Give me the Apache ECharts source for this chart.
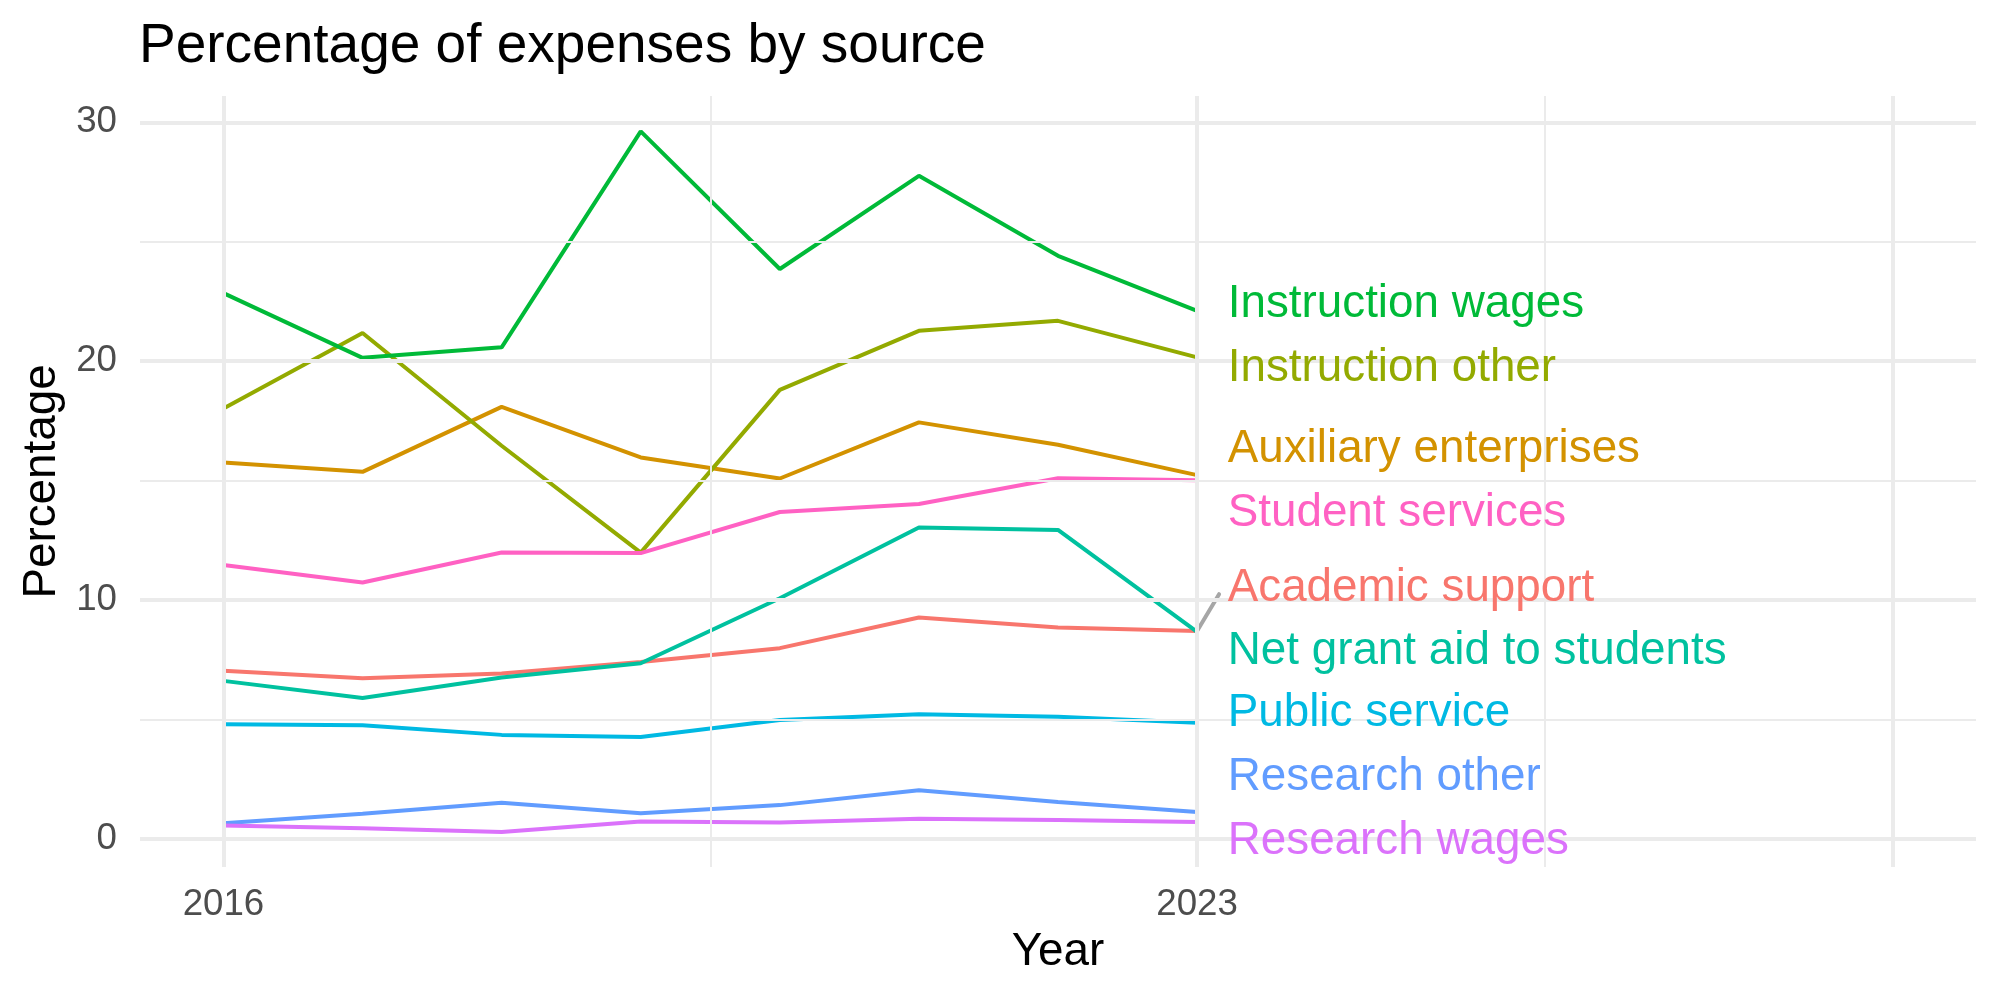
<!DOCTYPE html>
<html>
<head>
<meta charset="utf-8">
<script src="https://cdn.jsdelivr.net/npm/echarts@6/dist/echarts.min.js"></script>
<style>
  html, body { margin: 0; padding: 0; background: #fff; }
  #chart { width: 2000px; height: 1000px; }
</style>
</head>
<body>
<div id="chart"></div>
<script>
// data
const years = [2016, 2017, 2018, 2019, 2020, 2021, 2022, 2023];
const academicSupport = [7.04, 6.73, 6.93, 7.41, 7.99, 9.27, 8.85, 8.71];
const auxiliaryEnterprises = [15.76, 15.37, 18.09, 15.97, 15.09, 17.44, 16.5, 15.23];
const instructionOther = [18.02, 21.18, 16.46, 11.99, 18.8, 21.27, 21.69, 20.16];
const instructionWages = [22.85, 20.14, 20.58, 29.62, 23.86, 27.76, 24.41, 22.11];
const netGrantAid = [6.62, 5.9, 6.76, 7.36, 10.08, 13.04, 12.94, 8.67];
const publicService = [4.8, 4.76, 4.36, 4.27, 4.98, 5.22, 5.12, 4.87];
const researchOther = [0.66, 1.06, 1.52, 1.08, 1.42, 2.04, 1.55, 1.13];
const researchWages = [0.57, 0.45, 0.29, 0.73, 0.69, 0.85, 0.8, 0.71];
const studentServices = [11.47, 10.74, 11.99, 11.97, 13.69, 14.02, 15.1, 15.02];

const sourceNames = [
  "Academic support", "Auxiliary enterprises", "Instruction other",
  "Instruction wages", "Net grant aid to students", "Public service",
  "Research other", "Research wages", "Student services"
];
const sourceValues = [
  academicSupport, auxiliaryEnterprises, instructionOther,
  instructionWages, netGrantAid, publicService,
  researchOther, researchWages, studentServices
];
// repelled label positions (percentage units)
const labelY = [10.48, 16.31, 19.68, 22.36, 7.87, 5.25, 2.59, -0.09, 13.65];

const xTickLabels = [2016, 2023];
const yTickLabels = [0, 10, 20, 30];
const xMajor = [2016, 2023, 2028];
const xMinor = [2019.5, 2025.5];
const yMajor = [0, 10, 20, 30];
const yMinor = [5, 15, 25];

const colors = ["#F8766D", "#D39200", "#93AA00", "#00BA38", "#00C19F",
  "#00B9E3", "#619CFF", "#DB72FB", "#FF61C3"];

const FONT = "Liberation Sans, Arial, sans-serif";
const labelX = 2023.22;

const gridLines = [];
xMajor.forEach(v => gridLines.push({ xAxis: v, lineStyle: { width: 4 } }));
xMinor.forEach(v => gridLines.push({ xAxis: v, lineStyle: { width: 2 } }));
yMajor.forEach(v => gridLines.push({ yAxis: v, lineStyle: { width: 4 } }));
yMinor.forEach(v => gridLines.push({ yAxis: v, lineStyle: { width: 2 } }));

const series = [{
  type: "line",
  data: [[years[0], 0]],
  showSymbol: false,
  lineStyle: { opacity: 0 },
  silent: true,
  z: 1,
  markLine: {
    silent: true,
    symbol: "none",
    label: { show: false },
    lineStyle: { color: "#EBEBEB", type: "solid" },
    data: gridLines,
  },
}];

sourceNames.forEach((name, i) => {
  series.push({
    name: name,
    type: "line",
    data: years.map((y, j) => [y, sourceValues[i][j]]),
    showSymbol: false,
    lineStyle: { color: colors[i], width: 4 },
    z: 3,
  });
});

// label leader segment (academic support)
series.push({
  type: "line",
  data: [[years[7], academicSupport[7]], [2023.158, 10.25]],
  showSymbol: false,
  lineStyle: { color: "#A6A6A6", width: 4, cap: "round" },
  z: 4,
});

series.push({
  type: "scatter",
  data: sourceNames.map((name, i) => ({
    value: [labelX, labelY[i]],
    label: { color: colors[i] },
  })),
  symbolSize: 0,
  itemStyle: { opacity: 1 },
  z: 5,
  label: {
    show: true,
    position: "right",
    distance: 0,
    fontSize: 45.8,
    fontFamily: FONT,
    opacity: 1,
    formatter: p => sourceNames[p.dataIndex],
  },
});

const chart = echarts.init(document.getElementById("chart"));
chart.setOption({
  animation: false,
  backgroundColor: "#fff",
  title: {
    text: "Percentage of expenses by source",
    left: 134,
    top: 14,
    textStyle: { fontSize: 55, fontWeight: "normal", color: "#000", fontFamily: FONT },
  },
  grid: { left: 140, right: 24, top: 96, bottom: 133 },
  xAxis: {
    type: "value",
    min: 2015.4,
    max: 2028.6,
    name: "Year",
    nameLocation: "middle",
    nameGap: 62,
    nameTextStyle: { fontSize: 45.8, color: "#000", fontFamily: FONT },
    axisLine: { show: false },
    axisTick: { show: false },
    splitLine: { show: false },
    axisLabel: {
      customValues: xTickLabels,
      formatter: v => String(v),
      fontSize: 36.7,
      color: "#4D4D4D",
      fontFamily: FONT,
      margin: 19,
    },
  },
  yAxis: {
    type: "value",
    min: -1.17,
    max: 31.1,
    name: "Percentage",
    nameLocation: "middle",
    nameRotate: 90,
    nameGap: 74,
    nameTextStyle: { fontSize: 45.8, color: "#000", fontFamily: FONT },
    axisLine: { show: false },
    axisTick: { show: false },
    splitLine: { show: false },
    axisLabel: {
      customValues: yTickLabels,
      fontSize: 36.7,
      color: "#4D4D4D",
      fontFamily: FONT,
      margin: 23,
    },
  },
  series: series,
});
</script>
</body>
</html>
